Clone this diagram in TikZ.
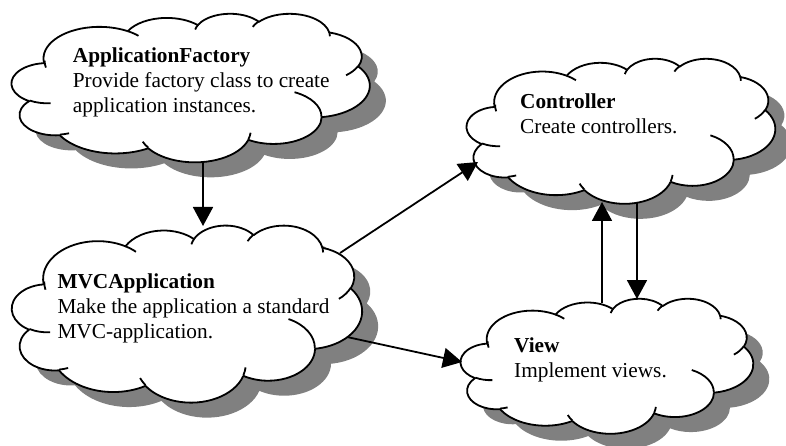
\documentclass[tikz,border=0pt]{standalone}
\usepackage{fontspec}
\setmainfont{Liberation Serif}
\usetikzlibrary{arrows.meta}
\definecolor{shadowgray}{RGB}{128,128,128}
% OOXML-style arc: wR hR stAng swAng (visual angles, y down)
\newcommand\carc[4]{arc[x radius=#1pt, y radius=#2pt, start angle={atan2(#1*sin(#3),#2*cos(#3))}, delta angle={atan2(#1*sin(#3+#4),#2*cos(#3+#4))-atan2(#1*sin(#3),#2*cos(#3))+360*round((#4-atan2(#1*sin(#3+#4),#2*cos(#3+#4))+atan2(#1*sin(#3),#2*cos(#3)))/360)}]}
\newcommand\cloudoutline{(3.9,14.37) \carc{6.753}{9.19}{-190.4875}{123.7805} \carc{5.333}{7.267}{-144.1024}{89.9452} \carc{4.365}{5.945}{-145.8079}{99.7230} \carc{4.857}{6.595}{-130.9861}{117.2417} \carc{5.333}{7.273}{-78.7089}{109.0269} \carc{6.775}{9.22}{-46.2673}{130.269} \carc{5.785}{7.867}{0.625}{114.0333} \carc{6.752}{9.215}{22.4516}{115.1726} \carc{7.72}{10.543}{66.2426}{75.711} \carc{4.36}{5.918}{-274.9421}{146.7356} \carc{4.345}{5.945}{-246.8285}{152.5189} -- cycle}
\newcommand\cloudinner{(4.693,26.177) \carc{4.345}{5.945}{86.742}{26.4295} (6.928,34.899) \carc{4.36}{5.918}{73.6105}{11.4475} (16.478,39.09) \carc{6.752}{9.215}{137.6242}{14.0811} (28.827,34.751) \carc{6.752}{9.215}{6.4533}{15.9984} (34.129,22.954) \carc{5.785}{7.867}{-70.2924}{70.9174} (41.798,15.354) \carc{5.333}{7.273}{30.318}{27.7515} (38.324,5.426) \carc{4.857}{6.595}{-13.7443}{14.8589} (29.078,3.952) \carc{4.857}{6.595}{-149.1815}{18.1954} (22.141,4.72) \carc{4.365}{5.945}{-163.4943}{17.6864} (14,5.192) \carc{6.753}{9.19}{-66.707}{12.3194} (4.127,15.789) \carc{6.753}{9.19}{163.6941}{16.8362}}
\newcommand\drawcloud[4]{%
  \begin{scope}[shift={({#1pt+16pt},{-#2pt-15pt})},xscale={#3/43.2},yscale={-#4/43.2},x=1pt,y=1pt]
    \fill[shadowgray] \cloudoutline;
  \end{scope}
  \begin{scope}[shift={({#1pt},{-#2pt})},xscale={#3/43.2},yscale={-#4/43.2},x=1pt,y=1pt]
    \filldraw[cloudline] \cloudoutline;
    \draw[cloudline] \cloudinner;
  \end{scope}}
\tikzset{
  cloudline/.style={draw=black, fill=white, line width=1.8pt, line join=round},
  txt/.style={inner sep=0pt, align=left, anchor=base west, font=\fontsize{21.3}{25}\selectfont},
  conn/.style={line width=1.8pt, -{Triangle[length=19pt,width=20pt]}, shorten >=0pt}
}
\begin{document}
\begin{tikzpicture}
\useasboundingbox (0pt,0pt) rectangle (786pt,-446pt);
% clouds: left, top, width, height (px)
\drawcloud{11.7}{13.3}{358}{148.5}
\drawcloud{12}{225}{350}{177}
\drawcloud{466.7}{58.3}{308.5}{145}
\drawcloud{460.7}{298.3}{292.5}{135}
% texts (anchored at the baseline of their last line)
\node[txt] (af) at (72.7pt,-112.5pt) {\textbf{ApplicationFactory}\\Provide factory class to create\\application instances.};
\node[txt] (mvc) at (57.3pt,-338pt) {\textbf{MVCApplication}\\Make the application a standard\\MVC-application.};
\node[txt] (ctrl) at (520pt,-133.5pt) {\textbf{Controller}\\Create controllers.};
\node[txt] (view) at (514pt,-377pt) {\textbf{View}\\Implement views.};
% connector end points on the cloud outlines
\coordinate (af-s) at (203pt,-162pt);
\coordinate (mvc-n) at (203pt,-226pt);
\coordinate (mvc-ne) at (340pt,-253pt);
\coordinate (ctrl-w) at (478pt,-162pt);
\coordinate (mvc-se) at (347pt,-337pt);
\coordinate (view-w) at (462pt,-362pt);
\coordinate (view-n1) at (602pt,-303pt);
\coordinate (ctrl-s1) at (602pt,-202pt);
\coordinate (ctrl-s2) at (637pt,-203pt);
\coordinate (view-n2) at (637pt,-299pt);
\draw[conn] (af-s) -- (mvc-n);
\draw[conn] (mvc-ne) -- (ctrl-w);
\draw[conn] (mvc-se) -- (view-w);
\draw[conn] (view-n1) -- (ctrl-s1);
\draw[conn] (ctrl-s2) -- (view-n2);
\end{tikzpicture}
\end{document}
